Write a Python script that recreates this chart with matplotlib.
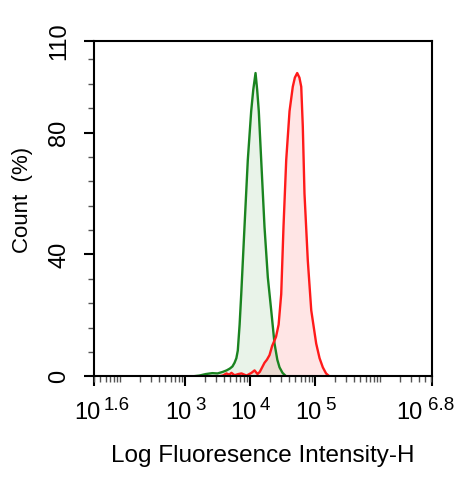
import numpy as np
import matplotlib
matplotlib.use('Agg')
import matplotlib.pyplot as plt
from matplotlib.ticker import FixedLocator, LogLocator, MultipleLocator, NullFormatter
from matplotlib.transforms import ScaledTranslation

plt.rcParams['font.family'] = 'Liberation Sans'

# кривые: показатель степени интенсивности (ось X) и процент (ось Y)
green_log = [1.6, 3.10, 3.22, 3.32, 3.42, 3.50, 3.58, 3.64, 3.69, 3.73, 3.762, 3.79,
             3.812, 3.84, 3.865, 3.915, 3.966, 4.018, 4.05, 4.085, 4.11, 4.135,
             4.172, 4.223, 4.274, 4.326, 4.377, 4.42, 4.454, 4.50, 4.557, 6.8]
green_cnt = [0, 0, 0.3, 0.8, 1.1, 1.0, 1.5, 2.0, 2.6, 3.3, 4.5, 6.0,
             8.5, 17, 27, 49, 71, 87, 94, 99.5, 94, 87,
             71, 49, 32.5, 21.7, 10.8, 5.5, 3.0, 1.2, 0, 0]

red_log = [1.6, 3.50, 3.58, 3.638, 3.68, 3.715, 3.762, 3.82, 3.87, 3.946, 3.99,
           4.023, 4.07, 4.115, 4.15, 4.177, 4.223, 4.26, 4.30, 4.34, 4.40, 4.44,
           4.48, 4.515, 4.557, 4.608, 4.658, 4.69, 4.726, 4.76, 4.788, 4.812,
           4.838, 4.889, 4.942, 5.018, 5.07, 5.12, 5.17, 5.223, 6.8]
red_cnt = [0, 0, 0.3, 1.0, 0.6, 1.2, 0.4, 0.8, 1.0, 0.3, 0.8,
           1.2, 2.0, 0.8, 1.5, 2.6, 4.5, 5.5, 7.0, 10, 13, 17,
           27, 49, 71, 87, 95, 98, 99.5, 98, 95, 82,
           60, 38, 21.7, 10.8, 6.0, 3.0, 1.0, 0, 0]

x_major = [1.6, 3, 4, 5, 6.8]
x_exponents = ['1.6', '3', '4', '5', '6.8']
y_major = [0, 40, 80, 110]

green_x = 10 ** np.array(green_log)
red_x = 10 ** np.array(red_log)

fig = plt.figure(figsize=(4.76, 4.79), dpi=100)
ax = fig.add_axes([0.1975, 0.214, 0.7101, 0.7004])

ax.fill_between(green_x, green_cnt, color='#2e8b2e', alpha=0.10, lw=0)
ax.fill_between(red_x, red_cnt, color='#ff3030', alpha=0.12, lw=0)
ax.plot(green_x, green_cnt, color='#1a8420', lw=1.7)
ax.plot(red_x, red_cnt, color='#ff1a1a', lw=1.7)

ax.set_xscale('log')
ax.set_xlim(10 ** 1.6, 10 ** 6.8)
ax.set_ylim(0, 110)

ax.xaxis.set_major_locator(FixedLocator([10 ** v for v in x_major]))
ax.set_xticklabels(['10'] * len(x_major), fontsize=17)
ax.xaxis.set_minor_locator(LogLocator(base=10, subs=np.arange(1, 10)))
ax.xaxis.set_minor_formatter(NullFormatter())

ax.yaxis.set_major_locator(FixedLocator(y_major))
ax.yaxis.set_minor_locator(MultipleLocator(8))
ax.set_yticklabels([str(v) for v in y_major], fontsize=17, rotation=90, va='center')

for s in ax.spines.values():
    s.set_linewidth(1.5)
ax.tick_params(which='major', length=7, width=1.5, direction='out')
ax.tick_params(which='minor', length=4, width=1.0, direction='out', color='#555555')
ax.tick_params(axis='x', pad=11.5)
ax.tick_params(axis='y', pad=10)

# сдвиг "10" влево от засечки, показатель степени справа и выше
base_shift = [-5, -5, -5, -5, -16]
exp_shift = [7.2, 7.2, 7.2, 7.2, -3]
for tick, dx in zip(ax.xaxis.get_major_ticks(), base_shift):
    lab = tick.label1
    lab.set_transform(lab.get_transform() + ScaledTranslation(dx / 72, 0, fig.dpi_scale_trans))
for v, e, dx in zip(x_major, x_exponents, exp_shift):
    ax.annotate(e, xy=(10 ** v, 0), xycoords=('data', 'axes fraction'),
                xytext=(dx, -23.8), textcoords='offset points',
                ha='left', va='baseline', fontsize=13.5, annotation_clip=False)

ax.set_xlabel('Log Fluoresence Intensity-H', fontsize=17.5)
ax.xaxis.set_label_coords(0.5, -0.205)
ax.set_ylabel('Count  (%)', fontsize=16)
ax.yaxis.set_label_coords(-0.18, 0.525)

fig.savefig('out.png', dpi=100)
